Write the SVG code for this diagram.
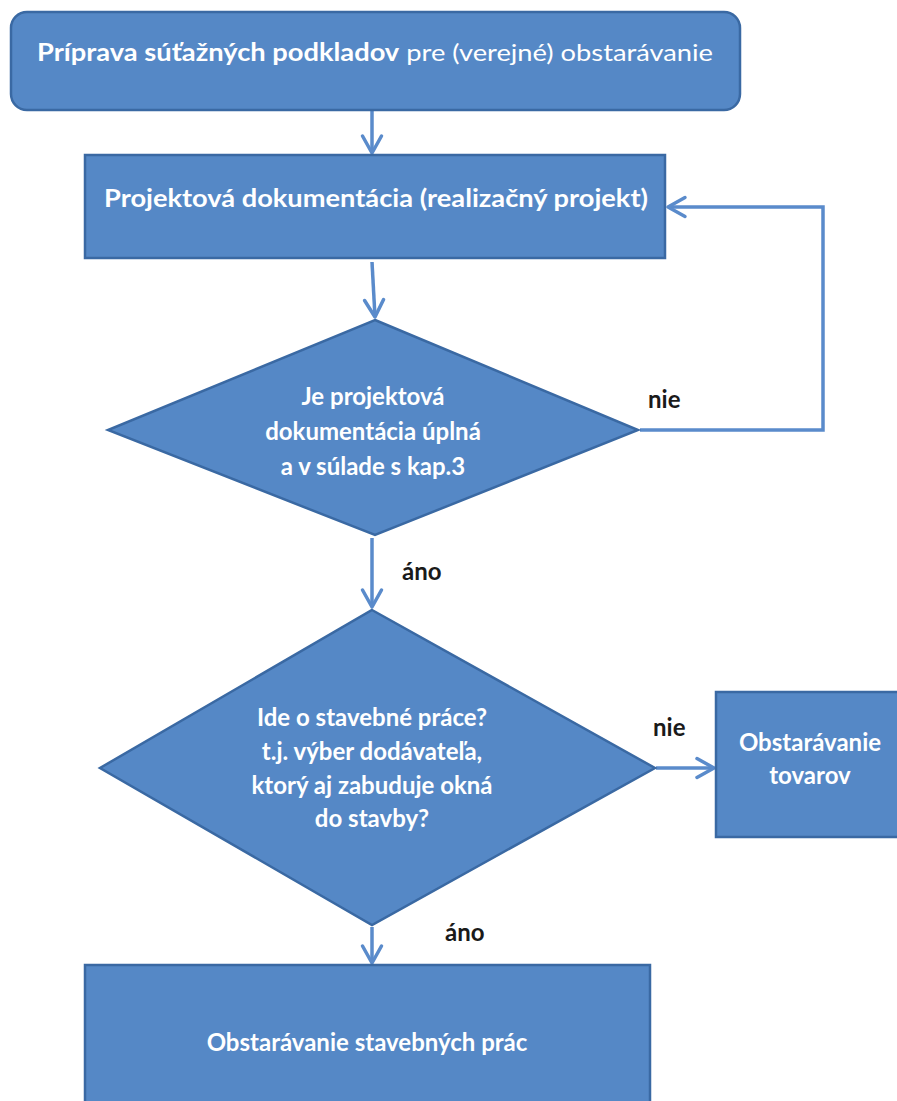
<svg xmlns="http://www.w3.org/2000/svg" width="897" height="1101" viewBox="0 0 897 1101">
<defs>
<style>
.node{fill:#5588C6;stroke:#3A69A3;stroke-width:2.5}
.t{font-family:Lato,"Open Sans","Liberation Sans",sans-serif;fill:#ffffff;font-weight:bold;text-anchor:middle;font-size:24px}
.lbl{font-family:Lato,"Open Sans","Liberation Sans",sans-serif;fill:#1a1a1a;font-weight:bold;font-size:24px}
.conn{fill:none;stroke:#5A8BCB;stroke-width:3.5}
</style>
<marker id="arr" viewBox="0 0 24 24" refX="20" refY="12" markerWidth="24" markerHeight="24" markerUnits="userSpaceOnUse" orient="auto">
<path d="M3,2.5 L20,12 L3,21.5" fill="none" stroke="#5A8BCB" stroke-width="3.5" stroke-linecap="round" stroke-linejoin="round"/>
</marker>
</defs>
<rect width="897" height="1101" fill="#ffffff"/>
<g id="connectors">
<line class="conn" x1="372" y1="110" x2="372" y2="153" marker-end="url(#arr)"/>
<line class="conn" x1="372" y1="262" x2="375" y2="317" marker-end="url(#arr)"/>
<polyline class="conn" points="640,430 823,430 823,207 668,207" marker-end="url(#arr)"/>
<line class="conn" x1="372" y1="538" x2="372" y2="607" marker-end="url(#arr)"/>
<line class="conn" x1="656" y1="768" x2="714" y2="768" marker-end="url(#arr)"/>
<line class="conn" x1="372" y1="927" x2="372" y2="963" marker-end="url(#arr)"/>
<text class="lbl" x="648" y="408">nie</text>
<text class="lbl" x="402" y="580">áno</text>
<text class="lbl" x="653" y="736">nie</text>
<text class="lbl" x="445" y="941">áno</text>
</g>
<g id="n1">
<rect class="node" x="11" y="12" width="729" height="98" rx="16"/>
<text class="t" x="375" y="61" font-size="26" textLength="676" lengthAdjust="spacingAndGlyphs">Príprava súťažných podkladov<tspan font-weight="normal"> pre (verejné) obstarávanie</tspan></text>
</g>
<g id="n2">
<rect class="node" x="85" y="155" width="580" height="103"/>
<text class="t" x="376" y="207" font-size="26" textLength="544" lengthAdjust="spacingAndGlyphs">Projektová dokumentácia (realizačný projekt)</text>
</g>
<g id="n3">
<polygon class="node" points="375,320 638,430 375,535 108,430"/>
<text class="t"><tspan x="373" y="405">Je projektová</tspan><tspan x="373" y="440">dokumentácia úplná</tspan><tspan x="373" y="475">a v súlade s kap.3</tspan></text>
</g>
<g id="n4">
<polygon class="node" points="372,610 655,768 372,925 100,768"/>
<text class="t"><tspan x="372" y="726">Ide o stavebné práce?</tspan><tspan x="372" y="760">t.j. výber dodávateľa,</tspan><tspan x="372" y="794">ktorý aj zabuduje okná</tspan><tspan x="372" y="827">do stavby?</tspan></text>
</g>
<g id="n5">
<rect class="node" x="716" y="692" width="190" height="145"/>
<text class="t"><tspan x="810" y="751">Obstarávanie</tspan><tspan x="810" y="784">tovarov</tspan></text>
</g>
<g id="n6">
<rect class="node" x="85" y="965" width="565" height="145"/>
<text class="t" x="367" y="1051">Obstarávanie stavebných prác</text>
</g>
</svg>
